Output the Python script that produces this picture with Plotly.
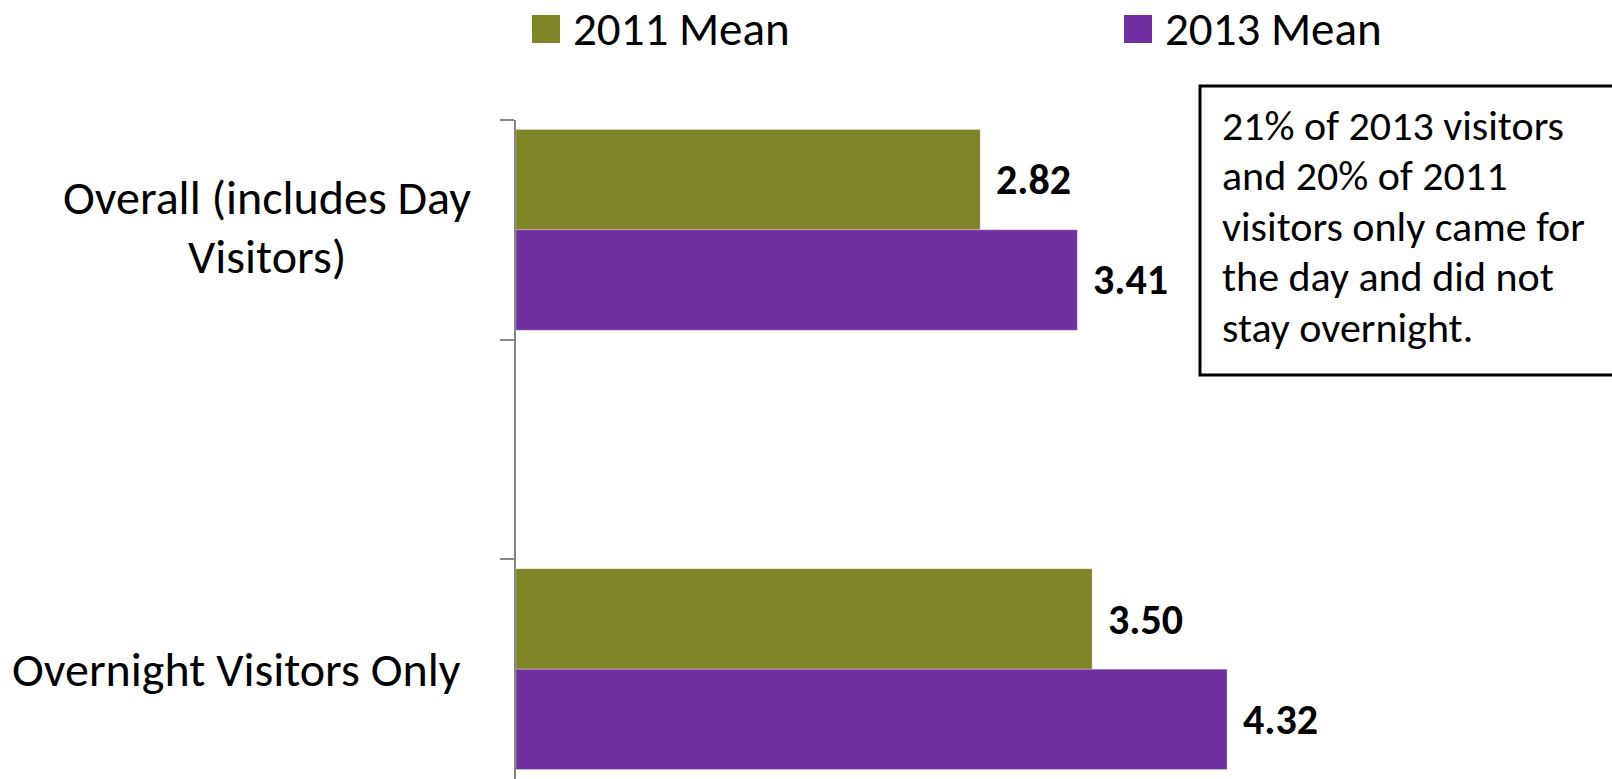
import plotly.graph_objects as go

# ---- data ----
categories = ["Overall (includes Day<br>Visitors)", " ", "Overnight Visitors Only"]
mean_2011 = [2.82, None, 3.50]
mean_2013 = [3.41, None, 4.32]
series_names = ["2011 Mean", "2013 Mean"]
note_lines = [
    "21% of 2013 visitors",
    "and 20% of 2011",
    "visitors only came for",
    "the day and did not",
    "stay overnight.",
]

# ---- style ----
W, H = 1612, 779
GREEN = "#7F8427"
PURPLE = "#7030A0"
AXIS_GRAY = "#868686"
FONT = "Carlito, Lato, sans-serif"
M_L, M_R, M_T, M_B = 516, 273, 120, 0
PW, PH = W - M_L - M_R, H - M_T - M_B


def px(xp):
    return (xp - M_L) / PW


def py(yp):
    return 1 - (yp - M_T) / PH


fig = go.Figure()
for name, vals, color in [(series_names[0], mean_2011, GREEN), (series_names[1], mean_2013, PURPLE)]:
    fig.add_trace(go.Bar(
        y=categories, x=vals, name=name, orientation="h",
        marker=dict(color=color, line=dict(color="rgba(255,255,255,0.5)", width=0.5)),
        showlegend=False, hoverinfo="x",
    ))

annotations = []

# value labels beside each bar
for vals, shift in [(mean_2011, 50), (mean_2013, -50)]:
    for cat, v in zip(categories, vals):
        if v is None:
            continue
        annotations.append(dict(
            x=v, y=cat, xref="x", yref="y", text=f"{v:.2f}",
            xanchor="left", yanchor="middle", xshift=14, yshift=shift,
            showarrow=False, font=dict(family=FONT, size=42, color="black", weight="bold"),
        ))

# category labels, centred lines
label_layout = {
    categories[0]: (267, [197, 256]),
    categories[2]: (236, [669]),
}
for cat, (cx, ys) in label_layout.items():
    for line, yc in zip(cat.split("<br>"), ys):
        annotations.append(dict(
            x=px(cx), y=py(yc), xref="paper", yref="paper", text=line,
            xanchor="center", yanchor="middle", showarrow=False,
            font=dict(family=FONT, size=48, color="black"),
        ))

# legend
shapes = []
for name, color, sx in [(series_names[0], GREEN, 532), (series_names[1], PURPLE, 1124)]:
    shapes.append(dict(type="rect", xref="paper", yref="paper",
                       x0=px(sx), x1=px(sx + 28), y0=py(43), y1=py(15),
                       fillcolor=color, line=dict(width=0)))
    annotations.append(dict(
        x=px(sx + 39), y=py(29), xref="paper", yref="paper", text=name,
        xanchor="left", yanchor="middle", showarrow=False,
        font=dict(family=FONT, size=47, color="black"),
    ))

# note box
shapes.append(dict(type="rect", xref="paper", yref="paper",
                   x0=px(1200), x1=px(1630), y0=py(375), y1=py(86),
                   line=dict(color="black", width=3), fillcolor="white"))
for i, line in enumerate(note_lines):
    annotations.append(dict(
        x=px(1220), y=py(125 + 50.5 * i), xref="paper", yref="paper", text=line,
        xanchor="left", yanchor="middle", showarrow=False,
        font=dict(family=FONT, size=42, color="black"),
    ))

fig.update_layout(
    width=W, height=H,
    margin=dict(l=M_L, r=M_R, t=M_T, b=M_B, pad=0),
    paper_bgcolor="white", plot_bgcolor="white",
    barmode="group", bargap=0.086, bargroupgap=0,
    xaxis=dict(range=[0, 5], visible=False, fixedrange=True),
    yaxis=dict(
        categoryorder="array", categoryarray=categories, range=[2.5, -0.5],
        showticklabels=False, showgrid=False, zeroline=False,
        showline=True, linecolor=AXIS_GRAY, linewidth=2,
        ticks="outside", tickson="boundaries", ticklen=14,
        tickcolor=AXIS_GRAY, tickwidth=2, fixedrange=True,
    ),
    shapes=shapes, annotations=annotations,
    font=dict(family=FONT),
)

fig.write_html("out.html", config={"displayModeBar": False})
